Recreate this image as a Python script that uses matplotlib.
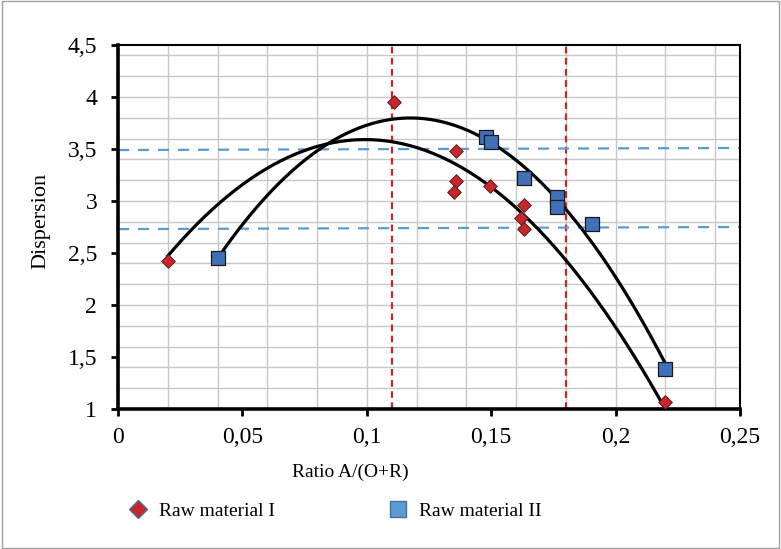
import matplotlib.pyplot as plt
import matplotlib.lines as mlines
import numpy as np

plt.rcParams['font.family'] = ['Liberation Serif', 'DejaVu Serif']

# Raw material I (diamonds)
x1 = [0.020, 0.111, 0.136, 0.136, 0.135, 0.1495, 0.163, 0.162, 0.163, 0.220]
y1 = [2.42, 3.95, 3.48, 3.19, 3.09, 3.14, 2.96, 2.84, 2.73, 1.07]

# Raw material II (squares)
x2 = [0.040, 0.148, 0.150, 0.163, 0.1765, 0.1765, 0.1905, 0.220]
y2 = [2.45, 3.62, 3.57, 3.22, 3.04, 2.94, 2.78, 1.38]

# reference lines
vlines_x = [0.11, 0.18]
hlines_y = [(3.49, 3.51), (2.73, 2.75)]

xticks = [0, 0.05, 0.1, 0.15, 0.2, 0.25]
xtick_labels = ['0', '0,05', '0,1', '0,15', '0,2', '0,25']
yticks = [1, 1.5, 2, 2.5, 3, 3.5, 4, 4.5]
ytick_labels = ['1', '1,5', '2', '2,5', '3', '3,5', '4', '4,5']

red = '#C8262B'
blue = '#3F70B9'
lblue = '#5B9BD5'

fig = plt.figure(figsize=(7.81, 5.49), dpi=100)
ax = fig.add_axes([118 / 781, 1 - 409 / 549, 622 / 781, 364 / 549])

ax.set_xlim(0, 0.25)
ax.set_ylim(1, 4.5)

# grid
for gx in np.arange(0.02, 0.25, 0.02):
    ax.axvline(gx, color='#C8C8C8', lw=1, zorder=0)
for gy in np.arange(1.2, 4.5, 0.2):
    ax.axhline(gy, color='#C8C8C8', lw=1, zorder=0)

# trend lines (2nd order polynomial)
for xs, ys in [(x1, y1), (x2, y2)]:
    c = np.polyfit(xs, ys, 2)
    xx = np.linspace(min(xs), max(xs), 200)
    ax.plot(xx, np.polyval(c, xx), color='black', lw=2.3, zorder=3)

ax.scatter(x1, y1, marker='D', s=48, color=red, edgecolor='#5a1a1a', lw=0.7, zorder=4)
ax.scatter(x2, y2, marker='s', s=110, color=blue, edgecolor='#1a1a1a', lw=0.9, zorder=4)

for vx in vlines_x:
    ax.axvline(vx, color=red, lw=1.6, ls=(0, (3, 2)), zorder=2)
for (ya, yb) in hlines_y:
    ax.plot([0, 0.25], [ya, yb], color=lblue, lw=1.6, ls=(0, (5, 4)), zorder=2)

ax.set_xticks(xticks)
ax.set_xticklabels(xtick_labels)
ax.set_yticks(yticks)
ax.set_yticklabels(ytick_labels)
ax.tick_params(axis='both', direction='out', length=5, width=2, labelsize=17, colors='black')
ax.tick_params(axis='x', pad=8)
ax.tick_params(axis='y', pad=10)

for side in ['left', 'bottom']:
    ax.spines[side].set_linewidth(2.6)
for side in ['top', 'right']:
    ax.spines[side].set_linewidth(1.5)

ax.set_xlabel('Ratio A/(O+R)', fontsize=14)
ax.xaxis.set_label_coords((350 - 118) / 622, -0.15)
ax.set_ylabel('Dispersion', fontsize=16)
ax.yaxis.set_label_coords(-(118 - 50) / 622, (409 - 221) / 364)

h1 = mlines.Line2D([], [], marker='D', ls='', markersize=9, markerfacecolor=red,
                   markeredgecolor='#41719C', markeredgewidth=1)
h2 = mlines.Line2D([], [], marker='s', ls='', markersize=11, markerfacecolor=lblue,
                   markeredgecolor='#41719C', markeredgewidth=1)
for h, lab, xpos in [(h1, 'Raw material I', 128), (h2, 'Raw material II', 388)]:
    leg = fig.legend([h], [lab], loc='center left',
                     bbox_to_anchor=(xpos / 781, 1 - 511 / 549), frameon=False,
                     fontsize=14, handlelength=1.0, handletextpad=0.6,
                     borderpad=0, borderaxespad=0)

fig.add_artist(plt.Rectangle((0.002, 0.002), 0.996, 0.996, transform=fig.transFigure,
                             fill=False, edgecolor='#A0A0A0', lw=1))

fig.savefig('out.png', dpi=100)
